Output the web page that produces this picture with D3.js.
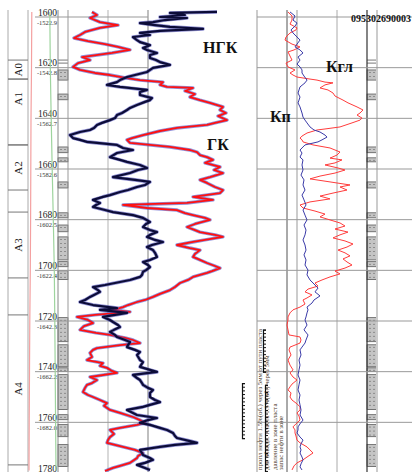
<!DOCTYPE html>
<html><head><meta charset="utf-8">
<script src="https://cdn.jsdelivr.net/npm/d3@7/dist/d3.min.js"></script>
<style>html,body{margin:0;padding:0;background:#fff;}svg{display:block;}</style>
</head><body><div id="chart"></div>
<script>
// ---------- DATA ----------
const depthTicks = [1600,1620,1640,1660,1680,1700,1720,1740,1760,1780];
const absDepthLabels = ["-1522.9","-1542.8","-1562.7","-1582.6","-1602.5","-1622.4","-1642.3","-1662.2","-1682.0"];
const wellId = "095302690003";
const zoneNames = ["А0","А1","А2","А3","А4"];
const zoneTops =    [1617.0,1624.5,1650.5,1677.0,1717.6];
const zoneBottoms = [1624.5,1650.5,1668.3,1703.0,1776.8];
const zoneLabelDepth = [1620.8,1632.3,1659.6,1690.0,1746.8];
const lithTops =    [1620.9,1630.4,1651.3,1655.6,1665.1,1677.3,1682.1,1686.8,1696.6,1700.2,1718.7,1729.4,1738.5,1741.2,1757.0,1760.9,1768.8];
const lithBottoms = [1624.9,1632.7,1653.6,1657.2,1667.5,1679.3,1684.8,1695.9,1698.6,1703.7,1728.2,1738.1,1740.0,1755.0,1759.0,1765.7,1777.5];
const thinMarks = [1617.0,1618.2];
// curves: [depth, value]
const gk = [[1598.0,2.4],[1599.2,2.9],[1600.4,2.2],[1602.0,3.2],[1603.2,5.0],[1604.3,3.2],[1605.9,1.7],[1607.1,1.2],[1608.3,0.6],[1609.5,2.0],[1610.7,3.7],[1611.8,5.0],[1613.0,6.2],[1614.2,4.4],[1615.8,1.4],[1617.0,2.2],[1618.2,1.0],[1619.7,0.5],[1620.9,1.2],[1622.1,2.7],[1622.9,4.2],[1624.1,5.9],[1624.9,7.2],[1625.7,9.5],[1626.8,9.2],[1627.6,9.9],[1628.0,12.5],[1629.2,11.7],[1630.4,12.7],[1631.6,12.2],[1632.8,13.2],[1633.9,14.2],[1635.5,15.5],[1636.7,15.2],[1637.9,15.8],[1639.1,15.0],[1640.7,15.9],[1641.8,14.7],[1642.6,13.9],[1643.8,10.9],[1645.0,9.2],[1646.6,7.5],[1647.8,6.4],[1648.5,5.9],[1649.7,6.2],[1651.3,10.2],[1652.5,12.2],[1653.3,12.9],[1654.5,13.2],[1655.3,13.9],[1656.4,14.5],[1657.6,13.7],[1659.2,15.2],[1660.4,14.6],[1661.6,15.5],[1663.2,14.2],[1664.3,13.2],[1665.5,13.9],[1667.1,14.7],[1668.3,15.5],[1669.5,15.2],[1671.0,12.5],[1672.2,14.5],[1673.4,11.9],[1674.2,5.5],[1675.4,7.9],[1676.2,10.9],[1677.4,11.7],[1678.2,12.5],[1679.3,13.7],[1680.1,14.2],[1681.7,12.7],[1682.9,11.9],[1684.1,12.7],[1684.9,13.2],[1686.0,14.7],[1686.8,15.5],[1688.0,13.7],[1688.8,12.5],[1690.0,10.9],[1691.2,12.2],[1692.0,13.2],[1693.5,12.7],[1694.7,12.5],[1695.9,13.2],[1697.1,13.9],[1698.3,14.7],[1699.1,15.2],[1700.3,14.4],[1701.0,13.9],[1702.6,12.5],[1703.8,12.0],[1705.0,11.2],[1706.6,10.7],[1707.8,10.2],[1709.3,9.2],[1710.5,8.5],[1711.7,7.7],[1712.5,6.9],[1713.7,6.0],[1714.5,5.5],[1715.6,4.5],[1716.4,6.2],[1717.6,2.7],[1718.4,0.9],[1719.6,2.0],[1720.8,2.5],[1722.0,1.6],[1723.5,1.2],[1724.7,2.8],[1725.5,4.2],[1726.7,5.7],[1727.5,6.5],[1728.7,7.2],[1729.5,5.2],[1730.7,2.9],[1731.4,2.5],[1732.6,2.2],[1734.2,2.4],[1735.4,1.9],[1736.6,3.5],[1737.7,3.2],[1738.5,3.9],[1739.7,4.4],[1740.5,4.9],[1742.1,2.2],[1743.3,2.9],[1744.5,2.4],[1745.2,1.9],[1746.4,1.7],[1748.0,1.5],[1749.2,2.0],[1750.0,2.5],[1751.2,3.2],[1752.4,3.9],[1753.5,3.6],[1755.1,4.2],[1756.3,5.2],[1757.9,6.5],[1759.1,7.2],[1760.2,7.7],[1761.0,6.9],[1762.2,5.2],[1763.0,4.2],[1764.6,4.6],[1765.8,4.2],[1767.0,4.0],[1768.1,3.9],[1768.9,4.7],[1769.7,5.5],[1770.9,6.7],[1772.1,7.5],[1773.3,7.0],[1774.1,6.9],[1775.2,6.5],[1776.0,6.2],[1777.2,5.2],[1778.0,4.5],[1779.2,3.7]];
const ngk = [[1598.0,14.9],[1598.4,10.2],[1599.2,11.7],[1600.0,9.2],[1600.4,11.9],[1601.2,9.7],[1602.0,8.5],[1602.4,7.2],[1603.2,8.7],[1603.9,10.2],[1604.7,13.5],[1605.5,9.2],[1606.3,7.2],[1607.1,8.2],[1607.9,6.5],[1609.1,6.9],[1609.9,7.2],[1611.1,8.2],[1612.2,7.5],[1613.0,7.9],[1614.2,8.9],[1615.0,8.2],[1616.2,8.2],[1617.0,8.8],[1617.8,9.2],[1618.9,10.2],[1620.1,8.5],[1620.9,8.2],[1621.7,7.9],[1622.9,6.7],[1623.7,5.9],[1624.9,5.2],[1625.7,4.9],[1626.8,3.9],[1627.6,5.2],[1628.8,7.9],[1629.6,7.2],[1630.8,7.2],[1632.0,8.4],[1632.8,8.2],[1633.5,7.7],[1634.7,6.9],[1635.9,6.2],[1636.7,5.9],[1637.9,5.4],[1638.7,4.9],[1639.9,4.7],[1640.7,4.2],[1641.8,3.4],[1642.6,2.9],[1643.8,2.6],[1644.6,2.2],[1645.4,1.2],[1646.6,0.2],[1647.8,0.5],[1648.5,1.2],[1649.3,1.9],[1650.5,4.9],[1651.7,5.5],[1652.5,6.5],[1653.7,4.9],[1655.3,4.2],[1656.4,5.2],[1657.2,5.9],[1658.4,7.2],[1659.6,7.9],[1660.4,7.0],[1661.6,6.2],[1663.2,4.5],[1664.3,6.7],[1665.1,8.2],[1666.3,7.7],[1667.1,6.9],[1668.3,6.0],[1669.1,5.2],[1670.3,4.2],[1671.0,3.5],[1672.2,2.5],[1673.4,3.2],[1674.2,2.8],[1675.0,2.5],[1676.2,3.7],[1677.0,4.5],[1678.2,6.5],[1679.3,7.5],[1680.9,8.2],[1681.7,7.8],[1682.9,7.5],[1684.1,8.2],[1684.9,8.9],[1686.0,8.2],[1686.8,7.9],[1688.0,8.7],[1688.8,9.5],[1690.0,8.4],[1690.8,7.9],[1692.0,8.5],[1693.1,8.7],[1694.7,8.9],[1695.9,8.2],[1696.7,7.5],[1697.9,8.0],[1698.7,8.2],[1699.9,7.8],[1700.6,7.5],[1701.8,7.4],[1702.6,7.2],[1703.8,6.2],[1704.6,5.2],[1705.8,3.7],[1706.6,2.5],[1707.8,3.0],[1708.5,3.2],[1709.7,2.6],[1710.5,2.2],[1711.7,1.7],[1712.5,1.2],[1713.7,2.5],[1714.9,4.9],[1715.6,3.2],[1716.8,5.9],[1718.4,3.5],[1719.6,4.2],[1720.4,4.5],[1721.6,5.0],[1722.4,5.2],[1723.5,4.6],[1724.3,4.2],[1725.5,4.7],[1726.3,4.9],[1727.5,5.7],[1728.3,6.2],[1729.5,6.0],[1730.3,5.9],[1731.4,6.7],[1732.2,7.2],[1733.4,6.9],[1735.4,7.2],[1736.2,7.5],[1737.4,7.3],[1738.1,7.2],[1739.3,8.2],[1740.1,8.9],[1741.3,6.5],[1742.5,6.9],[1743.3,7.2],[1744.5,7.4],[1745.2,7.5],[1746.4,8.0],[1747.2,8.5],[1748.4,8.2],[1750.0,8.2],[1751.2,8.7],[1752.0,9.2],[1753.1,8.2],[1753.9,7.5],[1755.1,5.9],[1756.3,6.5],[1757.1,6.9],[1758.3,8.9],[1759.1,8.0],[1760.2,7.2],[1761.0,8.2],[1762.2,9.2],[1763.0,9.9],[1764.2,10.5],[1765.4,10.7],[1766.2,10.9],[1767.4,12.2],[1768.1,12.9],[1768.9,10.7],[1769.7,9.2],[1770.9,7.2],[1772.1,7.4],[1772.9,7.5],[1774.1,8.2],[1774.8,8.5],[1776.0,7.7],[1776.8,6.9],[1778.0,7.7],[1778.8,8.2]];
const kgl = [[1598.0,15.5],[1599.6,17.5],[1601.2,17.5],[1602.8,16.5],[1604.3,20.0],[1605.1,19.5],[1606.3,16.5],[1607.9,14.5],[1609.1,14.0],[1610.7,17.5],[1611.8,21.5],[1613.0,18.5],[1613.8,15.5],[1615.4,16.5],[1617.0,17.5],[1618.2,14.5],[1619.7,15.5],[1620.9,19.0],[1622.1,16.5],[1622.9,18.0],[1623.7,20.0],[1624.5,26.5],[1624.9,30.0],[1625.7,34.0],[1626.0,38.0],[1626.8,34.0],[1628.0,31.5],[1628.8,35.5],[1630.0,38.0],[1631.2,39.0],[1632.8,43.0],[1633.9,45.5],[1635.5,50.0],[1636.7,53.0],[1637.9,51.5],[1638.7,50.0],[1639.9,52.5],[1640.7,51.5],[1641.8,47.5],[1643.4,41.5],[1644.2,34.0],[1644.6,30.0],[1645.8,25.0],[1647.0,22.5],[1647.8,21.5],[1648.5,22.5],[1649.3,23.0],[1650.5,28.0],[1651.7,36.5],[1652.5,39.0],[1653.3,41.5],[1654.5,40.0],[1655.7,36.5],[1656.4,42.5],[1657.6,39.0],[1658.4,34.0],[1659.6,40.5],[1660.4,44.0],[1661.6,39.0],[1662.8,31.5],[1663.9,26.5],[1665.1,36.5],[1666.3,46.5],[1667.1,41.5],[1668.3,45.0],[1669.5,38.0],[1670.7,31.5],[1671.8,36.5],[1673.0,26.5],[1674.2,21.5],[1675.4,23.0],[1676.6,29.0],[1677.8,34.0],[1678.9,31.5],[1680.1,36.5],[1681.3,41.5],[1682.5,44.0],[1683.7,39.0],[1684.9,45.5],[1686.0,41.5],[1687.2,38.0],[1688.4,44.0],[1689.6,48.0],[1690.8,45.0],[1692.0,40.5],[1693.1,44.0],[1694.3,46.5],[1695.5,43.0],[1696.7,45.0],[1697.9,47.5],[1699.1,44.0],[1700.3,39.0],[1701.4,41.5],[1702.6,36.5],[1703.8,32.5],[1705.0,29.0],[1706.2,30.5],[1707.4,25.5],[1708.5,24.0],[1709.7,27.5],[1710.9,25.0],[1711.7,23.0],[1713.3,24.0],[1714.5,21.5],[1715.6,18.0],[1716.8,16.5],[1718.4,15.5],[1719.6,15.5],[1721.6,15.0],[1723.5,15.5],[1725.5,16.0],[1726.3,21.5],[1727.5,22.0],[1728.7,21.5],[1729.5,19.0],[1730.3,16.5],[1731.4,16.0],[1733.4,17.0],[1735.4,15.5],[1737.4,16.5],[1739.3,18.0],[1740.5,16.5],[1742.1,18.0],[1743.3,20.0],[1744.9,17.5],[1746.0,16.5],[1747.2,15.5],[1748.4,17.0],[1750.0,16.5],[1751.2,17.5],[1752.7,20.0],[1753.9,21.5],[1755.1,21.5],[1756.3,20.0],[1757.5,21.0],[1759.1,21.5],[1760.6,19.5],[1761.8,18.0],[1763.0,19.0],[1764.2,19.0],[1765.4,19.5],[1767.0,20.0],[1768.1,21.5],[1769.7,25.0],[1770.9,26.5],[1772.1,28.0],[1772.9,26.5],[1773.7,25.0],[1774.8,23.0],[1776.0,20.0],[1777.2,18.5],[1778.8,17.5]];
const kp = [[1598.0,6.6],[1599.6,7.6],[1601.2,7.2],[1602.4,8.0],[1603.6,7.6],[1605.1,6.8],[1606.3,7.2],[1607.9,8.0],[1609.1,8.6],[1610.7,8.0],[1611.8,7.6],[1613.0,8.6],[1614.2,9.2],[1615.8,8.2],[1617.0,8.6],[1618.6,8.0],[1619.7,8.6],[1620.9,9.0],[1622.1,9.0],[1623.3,9.4],[1624.9,10.0],[1626.0,9.6],[1627.6,8.6],[1628.8,8.4],[1630.0,8.2],[1631.6,8.6],[1632.8,8.4],[1633.9,8.2],[1635.5,8.6],[1636.7,8.8],[1637.9,9.0],[1639.5,9.2],[1640.7,9.6],[1641.8,10.0],[1643.4,10.6],[1644.6,11.4],[1645.4,12.6],[1646.6,13.6],[1647.4,14.0],[1648.5,13.0],[1649.3,12.2],[1650.5,9.6],[1651.7,9.0],[1652.5,8.6],[1653.7,9.0],[1655.3,8.6],[1656.4,9.2],[1658.4,9.0],[1660.4,9.2],[1662.4,8.8],[1664.3,9.4],[1666.3,9.2],[1668.3,9.6],[1670.3,9.0],[1672.2,9.4],[1674.2,9.8],[1676.2,9.2],[1678.2,9.6],[1680.1,10.0],[1682.1,9.4],[1684.1,9.8],[1686.0,9.6],[1688.0,9.2],[1690.0,9.6],[1692.0,9.8],[1693.9,9.4],[1695.9,9.8],[1697.9,9.6],[1699.9,10.2],[1701.8,10.0],[1703.8,10.6],[1705.4,11.4],[1707.0,12.2],[1708.5,11.6],[1710.1,12.6],[1711.7,11.4],[1712.9,11.0],[1714.5,10.0],[1715.6,10.2],[1716.8,10.0],[1718.4,9.8],[1719.6,9.6],[1721.6,10.0],[1723.5,9.4],[1725.5,10.2],[1727.5,9.8],[1728.7,9.6],[1730.3,9.0],[1731.4,8.6],[1733.4,8.8],[1735.4,8.4],[1737.4,8.6],[1739.3,8.4],[1741.3,8.2],[1743.3,8.6],[1745.2,8.4],[1747.2,8.2],[1749.2,8.6],[1751.2,8.4],[1753.1,8.6],[1755.1,8.8],[1757.1,8.6],[1759.1,9.2],[1760.6,8.6],[1761.8,8.2],[1763.0,8.2],[1764.2,8.0],[1765.8,8.6],[1767.0,9.2],[1768.5,8.8],[1769.7,8.6],[1770.9,8.8],[1772.1,8.6],[1773.7,9.0],[1774.8,9.2],[1776.4,8.8],[1777.6,8.6],[1778.8,9.0]];
const ps = [[1598,3.8],[1620,3.5],[1640,3.0],[1660,2.8],[1680,2.6],[1700,2.3],[1720,1.8],[1740,1.5],[1760,1.2],[1779,1.0]];
const pz = [[1598,21.8],[1620,22.3],[1640,23.2],[1660,24.2],[1680,25.3],[1700,26.3],[1720,26.8],[1740,27.2],[1760,27.6],[1779,28.0]];
const curveLabels = ["НГК","ГК","Кп","Кгл"];
const noteLines = ["пропл нефти 1.5%(об.) через 5мм от пути пласта","для обводн. пласта 1.5%(об.) через 5мм","давление в зоне пласта","запас нефти в зоне"];

// ---------- DRAW ----------
const W = 412, H = 472;
const svg = d3.select("#chart").append("svg").attr("width", W).attr("height", H);
const y = d3.scaleLinear().domain([1600, 1780]).range([17, 473]);
const xT1 = d3.scaleLinear().domain([0, 18]).range([68, 248]);
const xKgl = d3.scaleLinear().domain([0, 55]).range([257, 367]);
const xKp = d3.scaleLinear().domain([0, 22]).range([257, 367]);
const xPs = d3.scaleLinear().domain([0, 30]).range([28, 58]);
const yTop = 10, yBot = H;
const serif = "'Liberation Serif','Times New Roman',serif";

// lithology columns
function lith(x0, x1) {
  const g = svg.append("g");
  lithTops.forEach((t, i) => {
    const y0 = y(t), y1 = y(lithBottoms[i]);
    g.append("rect").attr("x", x0).attr("y", y0).attr("width", x1 - x0).attr("height", y1 - y0)
      .attr("fill", "#c4c4c4").attr("stroke", "#333").attr("stroke-width", 0.6);
    for (let yy = y0 + 2.5; yy < y1 - 1; yy += 4) {
      g.append("circle").attr("cx", x0 + 3).attr("cy", yy).attr("r", 0.5).attr("fill", "#333");
      g.append("circle").attr("cx", x0 + 7).attr("cy", yy).attr("r", 0.5).attr("fill", "#333");
    }
  });
  thinMarks.forEach(d => g.append("line").attr("x1", x0).attr("x2", x1).attr("y1", y(d)).attr("y2", y(d)).attr("stroke", "#555").attr("stroke-width", 0.8));
}
lith(58, 68);
lith(367, 377);

// vertical lines
const vlines = [[8, "#aaa", 1], [28, "#aaa", 1], [58, "#888", 1], [68, "#999", 1], [108, "#ccc", 1.5], [148, "#aaa", 1.5],
  [257, "#999", 1], [287, "#555", 1], [297, "#ccc", 2], [337, "#aaa", 1], [367, "#333", 1.2], [377, "#ccc", 2]];
vlines.forEach(v => svg.append("line").attr("x1", v[0]).attr("x2", v[0]).attr("y1", yTop).attr("y2", yBot)
  .attr("stroke", v[1]).attr("stroke-width", v[2]));

// depth grid
depthTicks.forEach(d => {
  svg.append("line").attr("x1", 35).attr("x2", 148).attr("y1", y(d)).attr("y2", y(d)).attr("stroke", "#999").attr("stroke-width", 1);
  svg.append("line").attr("x1", 257).attr("x2", 412).attr("y1", y(d)).attr("y2", y(d)).attr("stroke", "#999").attr("stroke-width", 1);
});
svg.append("g").selectAll("text").data(depthTicks).join("text")
  .attr("x", 57).attr("y", d => y(d) - 1.5).attr("text-anchor", "end")
  .attr("font-family", serif).attr("font-size", 9.5).attr("fill", "#222").text(d => d);
svg.append("g").selectAll("text").data(absDepthLabels).join("text")
  .attr("x", 57).attr("y", (d, i) => y(depthTicks[i]) + 7.5).attr("text-anchor", "end")
  .attr("font-family", serif).attr("font-size", 6.5).attr("fill", "#333").text(d => d);

// zones
zoneNames.forEach((z, i) => {
  [zoneTops[i], zoneBottoms[i]].forEach(d => svg.append("line").attr("x1", 8).attr("x2", 28)
    .attr("y1", y(d)).attr("y2", y(d)).attr("stroke", "#777").attr("stroke-width", 1));
  const yy = y(zoneLabelDepth[i]);
  svg.append("text").attr("transform", `translate(21.5,${yy}) rotate(-90)`).attr("text-anchor", "middle")
    .attr("font-family", serif).attr("font-size", 11).attr("fill", "#222").text(z);
});

// thin curves
const lineOf = (xs) => d3.line().x(d => xs(d[1])).y(d => y(d[0]));
svg.append("path").datum(ps).attr("d", lineOf(xPs)).attr("fill", "none").attr("stroke", "#f4a0a0").attr("stroke-width", 1.2);
svg.append("path").datum(pz).attr("d", lineOf(xPs)).attr("fill", "none").attr("stroke", "#9ed49e").attr("stroke-width", 1.2);

// track 1 curves
svg.append("path").datum(gk).attr("d", lineOf(xT1)).attr("fill", "none").attr("stroke", "#4848c0").attr("stroke-width", 3.4).attr("stroke-opacity", 0.6).attr("stroke-linejoin", "round");
svg.append("path").datum(gk).attr("d", lineOf(xT1)).attr("fill", "none").attr("stroke", "#ff1010").attr("stroke-width", 1.8).attr("stroke-linejoin", "round");
svg.append("path").datum(ngk).attr("d", lineOf(xT1)).attr("fill", "none").attr("stroke", "#4a4ab8").attr("stroke-width", 3.6).attr("stroke-opacity", 0.6).attr("stroke-linejoin", "round");
svg.append("path").datum(ngk).attr("d", lineOf(xT1)).attr("fill", "none").attr("stroke", "#0c0c38").attr("stroke-width", 2.2).attr("stroke-linejoin", "round");

// track 2 curves
svg.append("path").datum(kgl).attr("d", lineOf(xKgl)).attr("fill", "none").attr("stroke", "#ff3c3c").attr("stroke-width", 1);
svg.append("path").datum(kp).attr("d", lineOf(xKp)).attr("fill", "none").attr("stroke", "#3a3aa8").attr("stroke-width", 1);

// labels
const lab = [[curveLabels[0], 203, 53], [curveLabels[1], 207, 150], [curveLabels[2], 270, 122], [curveLabels[3], 326, 72]];
lab.forEach(l => svg.append("text").attr("x", l[1]).attr("y", l[2]).attr("font-family", serif).attr("font-weight", "bold")
  .attr("font-size", 16).attr("fill", "#111").text(l[0]));
svg.append("text").attr("x", 411).attr("y", 22).attr("text-anchor", "end").attr("font-family", serif)
  .attr("font-weight", "bold").attr("font-size", 10).attr("fill", "#111").text(wellId);

// notes & rulers
const noteX = [261.5, 269, 276.5, 282.5];
const noteY = [470, 470, 470, 470];
noteLines.forEach((t, i) => svg.append("text").attr("transform", `translate(${noteX[i]},${noteY[i]}) rotate(-90)`)
  .attr("font-family", serif).attr("font-size", 6.8).attr("fill", "#4a3a2a").text(t));
function ruler(x, d0, d1, n) {
  const s = d3.scaleLinear().domain([0, n]).range([y(d0), y(d1)]);
  const ax = d3.axisRight(s).ticks(n).tickSize(3).tickFormat("");
  const g = svg.append("g").attr("transform", `translate(${x},0)`).call(ax);
  g.select(".domain").attr("stroke", "#111").attr("stroke-width", 1.2);
  g.selectAll(".tick line").attr("stroke", "#111");
}
ruler(263, 1723.4, 1740.0, 12);
ruler(242, 1744.5, 1766.2, 15);
ruler(265, 1745.2, 1780.6, 25);
</script></body></html>
